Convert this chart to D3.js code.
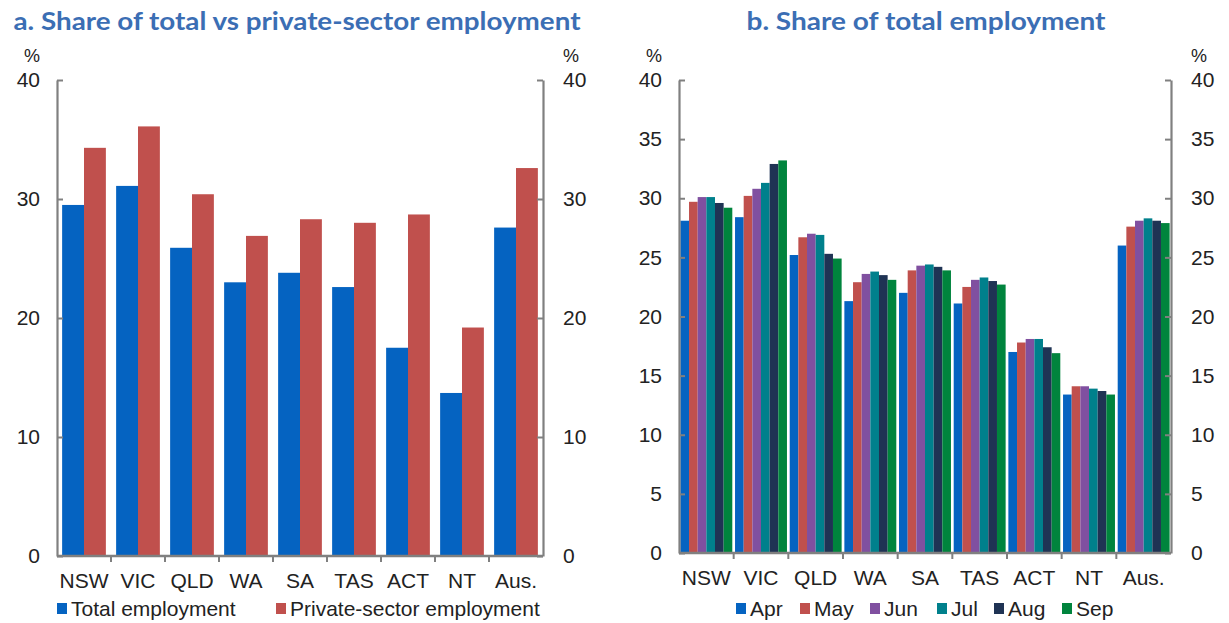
<!DOCTYPE html>
<html>
<head>
<meta charset="utf-8">
<script src="https://cdn.jsdelivr.net/npm/d3@7"></script>
<style>
  body { margin: 0; background: #fff; }
  svg { display: block; }
  .tick text { font-family: "Liberation Sans", Arial, sans-serif; fill: #222; }
</style>
</head>
<body>
<svg id="chart" width="1229" height="623"></svg>
<script>
// ---- data ----
const states = ['NSW', 'VIC', 'QLD', 'WA', 'SA', 'TAS', 'ACT', 'NT', 'Aus.'];

const seriesA = ['Total employment', 'Private-sector employment'];
const totalEmp = [29.5, 31.1, 25.9, 23.0, 23.8, 22.6, 17.5, 13.7, 27.6];
const privateEmp = [34.3, 36.1, 30.4, 26.9, 28.3, 28.0, 28.7, 19.2, 32.6];

const months = ['Apr', 'May', 'Jun', 'Jul', 'Aug', 'Sep'];
const apr = [28.1, 28.4, 25.2, 21.3, 22.0, 21.1, 17.0, 13.4, 26.0];
const may = [29.7, 30.2, 26.7, 22.9, 23.9, 22.5, 17.8, 14.1, 27.6];
const jun = [30.1, 30.8, 27.0, 23.6, 24.3, 23.1, 18.1, 14.1, 28.1];
const jul = [30.1, 31.3, 26.9, 23.8, 24.4, 23.3, 18.1, 13.9, 28.3];
const aug = [29.6, 32.9, 25.3, 23.5, 24.2, 23.0, 17.4, 13.7, 28.1];
const sep = [29.2, 33.2, 24.9, 23.1, 23.9, 22.7, 16.9, 13.4, 27.9];

const ticksA = [0, 10, 20, 30, 40];
const ticksB = [0, 5, 10, 15, 20, 25, 30, 35, 40];

const colorsA = ['#0563C1', '#C0504D'];
const colorsB = ['#0563C1', '#C0504D', '#8050A0', '#00808C', '#1F3354', '#00843D'];

const svg = d3.select('#chart');
const axisColor = '#808080';
const fontFam = '"Liberation Sans", Arial, sans-serif';

function panel(opts) {
    const { left, right, top, bottom, series, names, colors, ticks, padInner, padOuter,
            title, titleX, titleW, legendItems } = opts;

    const g = svg.append('g');
    const x0 = d3.scaleBand().domain(states).range([left, right])
        .paddingInner(padInner).paddingOuter(padOuter);
    const x1 = d3.scaleBand().domain(names).range([0, x0.bandwidth()]);
    const y = d3.scaleLinear().domain([0, 40]).range([bottom, top]);

    // bars
    const groups = g.selectAll('g.grp')
        .data(states)
        .join('g')
        .attr('class', 'grp')
        .attr('transform', d => `translate(${x0(d)},0)`);

    groups.selectAll('rect')
        .data((d, i) => names.map((n, k) => ({ n, k, v: series[k][i] })))
        .join('rect')
        .attr('x', d => x1(d.n))
        .attr('width', x1.bandwidth())
        .attr('y', d => y(d.v))
        .attr('height', d => y(0) - y(d.v))
        .attr('fill', d => colors[d.k]);

    // left axis
    const ax = g.append('g')
        .attr('transform', `translate(${left},0)`)
        .call(d3.axisLeft(y).tickValues(ticks).tickSize(-6).tickPadding(17).tickSizeOuter(0));
    const ax2 = g.append('g')
        .attr('transform', `translate(${right},0)`)
        .call(d3.axisRight(y).tickValues(ticks).tickSize(-6).tickPadding(20).tickSizeOuter(0));
    [ax, ax2].forEach(a => {
        a.select('.domain').attr('stroke', axisColor).attr('stroke-width', 2.2);
        a.selectAll('.tick line').attr('stroke', axisColor).attr('stroke-width', 2);
        a.selectAll('.tick text').attr('font-size', 21).attr('font-family', fontFam).attr('fill', '#222');
    });

    // % labels
    g.append('text').attr('x', left - 17).attr('y', 62).attr('text-anchor', 'end')
        .attr('font-size', 18).attr('font-family', fontFam).attr('fill', '#222').text('%');
    g.append('text').attr('x', right + 20).attr('y', 62).attr('text-anchor', 'start')
        .attr('font-size', 18).attr('font-family', fontFam).attr('fill', '#222').text('%');

    // x axis
    const xa = g.append('g')
        .attr('transform', `translate(0,${bottom})`)
        .call(d3.axisBottom(x0).tickSize(0).tickPadding(17));
    xa.select('.domain').remove();
    xa.selectAll('.tick text').attr('font-size', 21).attr('font-family', fontFam).attr('fill', '#222');
    g.append('line').attr('x1', left).attr('x2', right).attr('y1', bottom).attr('y2', bottom)
        .attr('stroke', axisColor).attr('stroke-width', 2.5);
    const step = x0.step();
    g.selectAll('line.bt')
        .data(states.slice(1))
        .join('line')
        .attr('class', 'bt')
        .attr('x1', d => x0(d) - (step - x0.bandwidth()) / 2)
        .attr('x2', d => x0(d) - (step - x0.bandwidth()) / 2)
        .attr('y1', bottom).attr('y2', bottom + 6)
        .attr('stroke', axisColor).attr('stroke-width', 2);

    // title
    svg.append('text')
        .attr('x', titleX).attr('y', 30)
        .attr('text-anchor', 'middle')
        .attr('font-family', 'Lato, "Open Sans", sans-serif')
        .attr('font-weight', 'bold')
        .attr('font-size', 25)
        .attr('fill', '#3B6EB4')
        .attr('textLength', titleW)
        .attr('lengthAdjust', 'spacingAndGlyphs')
        .text(title);

    // legend
    legendItems.forEach(it => {
        g.append('rect').attr('x', it.x).attr('y', 603).attr('width', 10).attr('height', 11)
            .attr('fill', it.color);
        g.append('text').attr('x', it.x + 14).attr('y', 616)
            .attr('font-size', 21).attr('font-family', fontFam).attr('fill', '#222')
            .text(it.label);
    });
}

panel({
    left: 57, right: 543, top: 80, bottom: 556,
    series: [totalEmp, privateEmp], names: seriesA, colors: colorsA, ticks: ticksA,
    padInner: 0.19, padOuter: 0.095,
    title: 'a. Share of total vs private-sector employment', titleX: 297, titleW: 567,
    legendItems: [
        { x: 57, label: seriesA[0], color: colorsA[0] },
        { x: 276, label: seriesA[1], color: colorsA[1] }
    ]
});

const legendXB = [736, 800, 870, 937, 994, 1062];
panel({
    left: 679, right: 1171, top: 80, bottom: 553,
    series: [apr, may, jun, jul, aug, sep], names: months, colors: colorsB, ticks: ticksB,
    padInner: 0.05, padOuter: 0.025,
    title: 'b. Share of total employment', titleX: 926, titleW: 359,
    legendItems: months.map((m, i) => ({ x: legendXB[i], label: m, color: colorsB[i] }))
});
</script>
</body>
</html>
